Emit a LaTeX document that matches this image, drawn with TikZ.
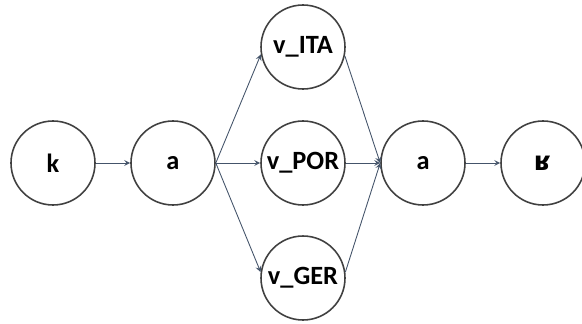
\documentclass[tikz,border=0pt]{standalone}
\usepackage{fontspec}
\setmainfont{Carlito}
\newfontfamily\ipafont{DejaVu Sans}
\usetikzlibrary{positioning}
\definecolor{ringgray}{HTML}{404040}
\definecolor{edgeblue}{HTML}{44546A}
\tikzset{
    phon/.style={circle, draw=ringgray, line width=0.9pt, inner sep=0pt, minimum size=1.68cm,
        font=\fontsize{15}{18}\selectfont\bfseries},
    arr/.style={->, >=stealth, draw=edgeblue, line width=0.5pt}
}
\begin{document}
\begin{tikzpicture}[node distance=2.4cm]
    \useasboundingbox (0,0) rectangle (11.64,6.46);
    \node[phon] (k) at (1.06,3.2) {k};
    \node[phon] (a1) [right of=k] {a};
    \node[phon] (vpor) [right of=a1, node distance=2.6cm] {v\_POR};
    \node[phon] (vita) [above of=vpor, node distance=2.32cm] {v\_ITA};
    \node[phon] (vger) [below of=vpor, node distance=2.3cm] {v\_GER};
    \node[phon] (a2) [right of=vpor] {a};
    \node[phon] (r) [right of=a2] {\ipafont\bfseries ʁ};
    \draw[arr] (k) to (a1);
    \draw[arr] (a1.east) to (vita.190);
    \draw[arr] (a1.east) to (vpor);
    \draw[arr] (a1.east) to (vger.172);
    \draw[arr] (vita.-12) to (a2.west);
    \draw[arr] (vpor) to (a2.west);
    \draw[arr] (vger.8) to (a2.west);
    \draw[arr] (a2) to (r);
\end{tikzpicture}
\end{document}
